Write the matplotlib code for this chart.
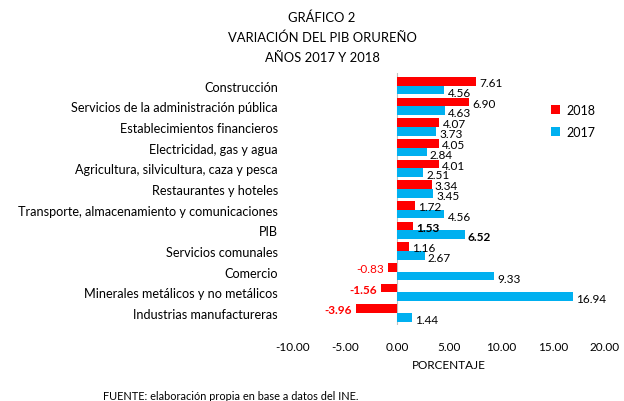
import matplotlib.pyplot as plt
import numpy as np

plt.rcParams['font.family'] = ['Lato', 'DejaVu Sans']

categories = [
    'Construcción',
    'Servicios de la administración pública',
    'Establecimientos financieros',
    'Electricidad, gas y agua',
    'Agricultura, silvicultura, caza y pesca',
    'Restaurantes y hoteles',
    'Transporte, almacenamiento y comunicaciones',
    'PIB',
    'Servicios comunales',
    'Comercio',
    'Minerales metálicos y no metálicos',
    'Industrias manufactureras',
]
v2018 = [7.61, 6.90, 4.07, 4.05, 4.01, 3.34, 1.72, 1.53, 1.16, -0.83, -1.56, -3.96]
v2017 = [4.56, 4.63, 3.73, 2.84, 2.51, 3.45, 4.56, 6.52, 2.67, 9.33, 16.94, 1.44]
xticks = [-10, -5, 0, 5, 10, 15, 20]
title_lines = ['GRÁFICO 2', 'VARIACIÓN DEL PIB ORUREÑO', 'AÑOS 2017 Y 2018']

red = '#FF0000'
blue = '#00B0F0'

fig = plt.figure(figsize=(6.24, 4.02), dpi=100)
ax = fig.add_axes([0.4696, 0.188, 0.5, 0.627])

y = np.arange(len(categories))
h = 0.42
ax.barh(y - h / 2, v2018, height=h, color=red, label='2018')
ax.barh(y + h / 2, v2017, height=h, color=blue, label='2017')

for i, (a, b) in enumerate(zip(v2018, v2017)):
    bold_a = categories[i] == 'PIB' or a < -1
    if a >= 0:
        ax.text(a + 0.3, i - h / 2 + 0.05, f'{a:.2f}', va='center', ha='left',
                fontsize=8.5, fontweight='bold' if bold_a else 'normal',
                color='black')
    else:
        ax.text(a - 0.4, i - h / 2 + 0.05, f'{a:.2f}', va='center', ha='right',
                fontsize=8.5, fontweight='bold' if bold_a else 'normal',
                color=red)
    ax.text(b + 0.3, i + h / 2 + 0.1, f'{b:.2f}', va='center', ha='left',
            fontsize=8.5, fontweight='bold' if categories[i] == 'PIB' else 'normal')

ax.set_xlim(-10, 20)
ax.set_ylim(len(categories) - 0.4, -0.6)
ax.set_xticks(xticks)
ax.set_xticklabels([f'{t:.2f}' for t in xticks], fontsize=8.5)
ax.set_yticks(y)
ax.set_yticklabels(categories, fontsize=9.1)
ax.tick_params(axis='both', length=0)
ax.tick_params(axis='y', pad=11)
ax.tick_params(axis='x', pad=11)
for s in ax.spines.values():
    s.set_visible(False)
ax.axvline(0, color='#BFBFBF', lw=0.8, zorder=0)
ax.set_xlabel('PORCENTAJE', fontsize=8.5, labelpad=5)

leg = fig.legend(loc='upper left', bbox_to_anchor=(0.865, 0.768), frameon=False,
                 fontsize=9, handlelength=0.7, handleheight=0.7,
                 handletextpad=0.5, labelspacing=0.85)

for k, line in enumerate(title_lines):
    fig.text(0.516, 1 - (18 + 20 * k) / 402, line, ha='center', va='center',
             fontsize=9.4)
fig.text(0.165, 1 - 397 / 402, 'FUENTE: elaboración propia en base a datos del INE.',
         ha='left', va='center', fontsize=7.9)

fig.savefig('out.png', dpi=100)
